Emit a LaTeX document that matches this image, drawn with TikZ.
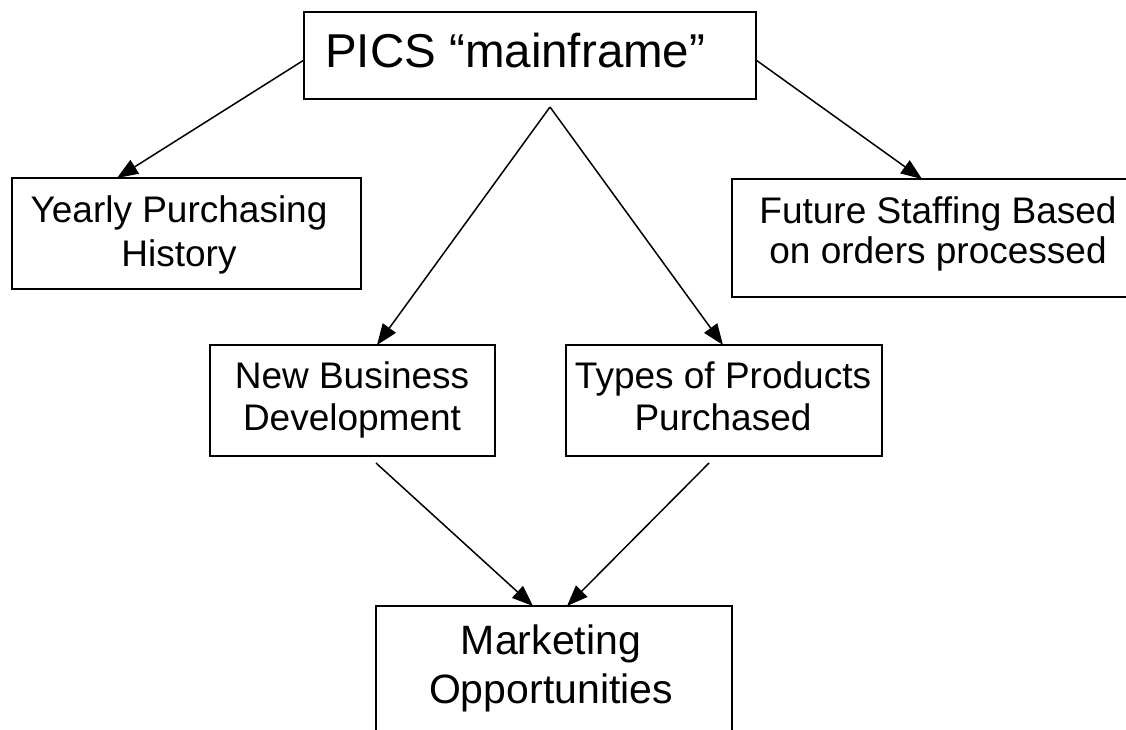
\documentclass[tikz,border=0pt]{standalone}
\usepackage{fontspec}
\setmainfont{Liberation Sans}
\usetikzlibrary{arrows.meta}
\begin{document}
\begin{tikzpicture}[x=1pt,y=-1pt,
  box/.style={draw=black, line width=2.2pt, rectangle, inner sep=0pt},
  lbl/.style={anchor=base, align=center, inner sep=0pt},
  conn/.style={draw=black, line width=1.5pt, -{Triangle[length=21pt,width=16pt]}}]
\useasboundingbox (0,0) rectangle (1126,729);
\fill[white] (0,0) rectangle (1126,729);
\clip (0,0) rectangle (1126,729);
% boxes
\node[box, minimum width=452pt, minimum height=87pt] (top) at (530,55.5) {};
\node[box, minimum width=349pt, minimum height=111pt] (yearly) at (186.5,233.5) {};
\node[box, minimum width=403pt, minimum height=118pt] (future) at (933.5,238) {};
\node[box, minimum width=285pt, minimum height=111pt] (nb) at (352.5,400.5) {};
\node[box, minimum width=316pt, minimum height=111pt] (types) at (724,400.5) {};
\node[box, minimum width=356pt, minimum height=154pt] (mkt) at (554,683) {};
% texts (anchor = baseline of the last line)
\node[lbl, anchor=base west, font=\fontsize{47.5pt}{57pt}\selectfont] (toptxt) at (325,67) {PICS “mainframe”};
\node[lbl, font=\fontsize{37pt}{44pt}\selectfont] (yeartxt) at (179,266) {Yearly Purchasing\\History};
\node[lbl, font=\fontsize{37pt}{40pt}\selectfont] (futtxt) at (938,263) {Future Staffing Based\\on orders processed};
\node[lbl, font=\fontsize{37pt}{42pt}\selectfont] (nbtxt) at (352,430) {New Business\\Development};
\node[lbl, font=\fontsize{37pt}{42pt}\selectfont] (typtxt) at (723,430) {Types of Products\\Purchased};
\node[lbl, font=\fontsize{41pt}{49pt}\selectfont] (mkttxt) at (551,703) {Marketing\\Opportunities};
% connector end points
\coordinate (tlS) at (304,60);
\coordinate (yTip) at (117,178);
\coordinate (trS) at (756,60);
\coordinate (fTip) at (922,179);
\coordinate (apex) at (550,107);
\coordinate (nbTip) at (377,345);
\coordinate (tyTip) at (723,345);
\coordinate (nbS) at (376,463);
\coordinate (tyS) at (709,463);
\coordinate (mL) at (533,606);
\coordinate (mR) at (567,606);
% connectors
\draw[conn] (tlS) -- (yTip);
\draw[conn] (trS) -- (fTip);
\draw[conn] (apex) -- (nbTip);
\draw[conn] (apex) -- (tyTip);
\draw[conn] (nbS) -- (mL);
\draw[conn] (tyS) -- (mR);
\end{tikzpicture}
\end{document}
